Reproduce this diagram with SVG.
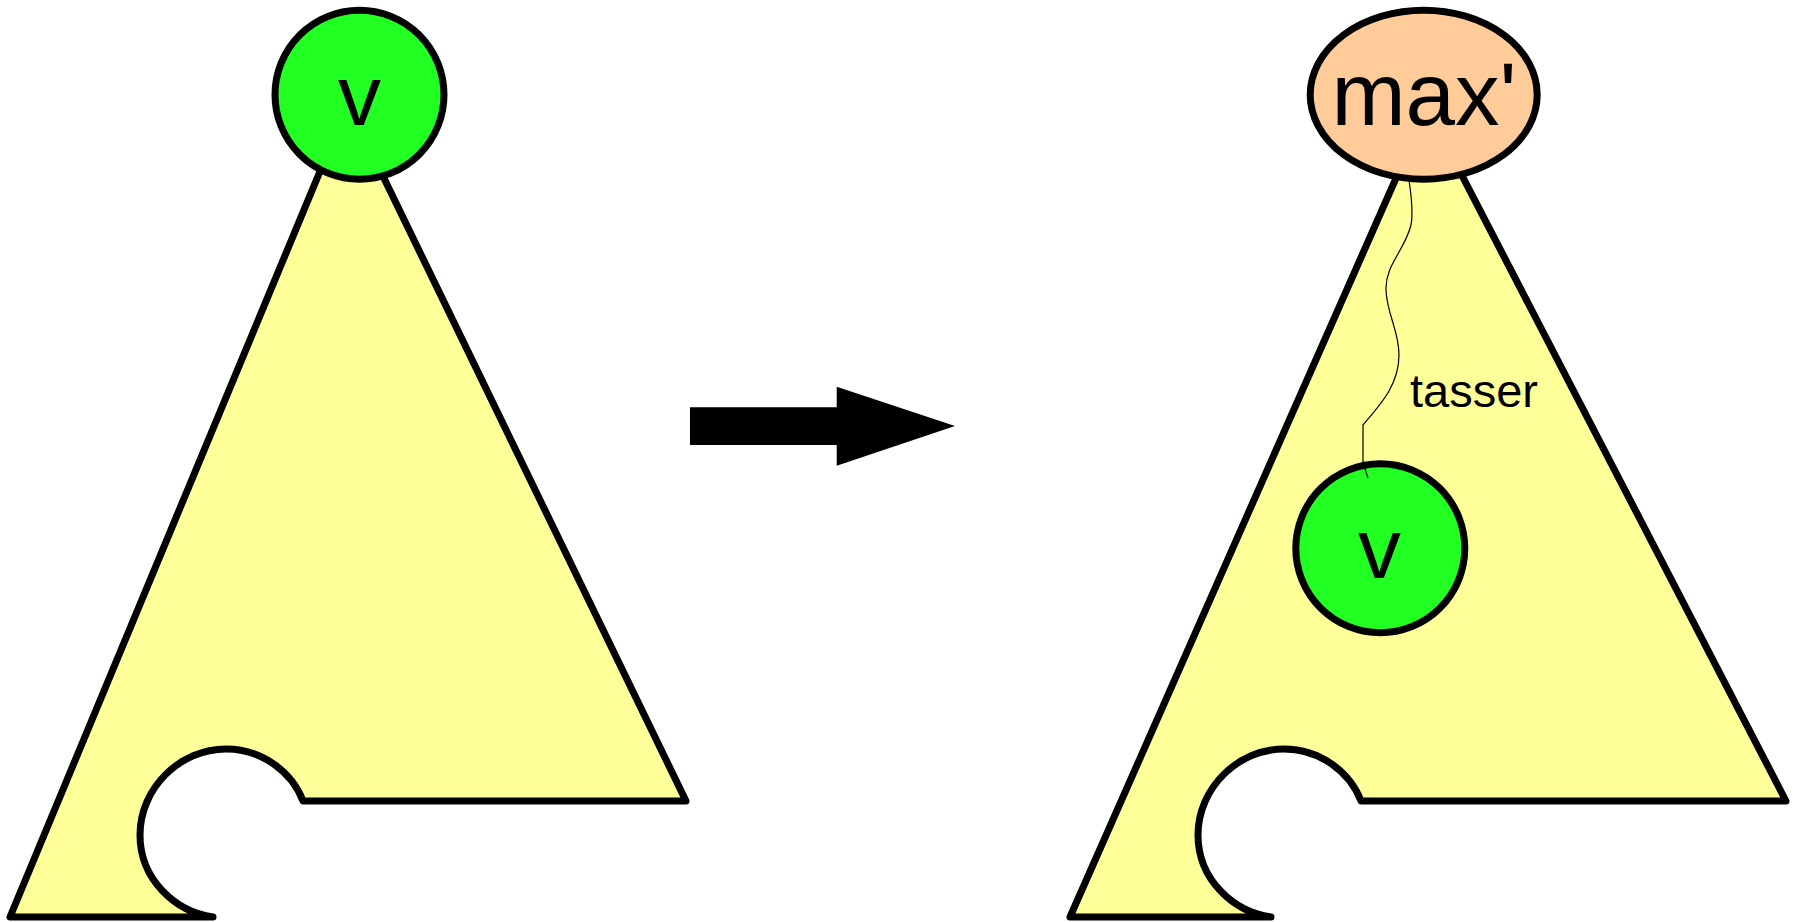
<svg xmlns="http://www.w3.org/2000/svg" width="1799" height="922" viewBox="0 0 1799 922">
  <style>
    .tree { fill: #ffff99; stroke: #000; stroke-width: 7; stroke-linejoin: round; }
    .node { stroke: #000; stroke-width: 7; }
    .green { fill: #22ff22; }
    .peach { fill: #ffcc99; }
    .lbl { font-family: "Liberation Sans", Arial, sans-serif; fill: #000; text-anchor: middle; }
    .conn { fill: none; stroke: #000; stroke-width: 1.2; }
  </style>
  <rect width="1799" height="922" fill="#fff"/>
  <g id="tree-left">
    <path class="tree" d="M348,104 L10,917 L213,917 C176,912 140,880 140,835 C140,788 180,749 226,749 C262,749 292,772 303,801 L686,801 Z"/>
  </g>
  <g id="node-v-top">
    <circle class="node green" cx="359.5" cy="94.7" r="84.5"/>
    <text class="lbl" x="359.5" y="125" font-size="86">v</text>
  </g>
  <g id="arrow">
    <polygon fill="#000" points="690,407.3 836.7,407.3 836.7,386.7 955,426 836.7,465.7 836.7,445 690,445"/>
  </g>
  <g id="tree-right">
    <path class="tree" d="M1427,108 L1070,917 L1271,917 C1234,912 1198,880 1198,835 C1198,788 1238,749 1284,749 C1320,749 1350,772 1361,801 L1786,801 Z"/>
  </g>
  <g id="node-max">
    <ellipse class="node peach" cx="1423.7" cy="94.7" rx="113.5" ry="84.5"/>
    <text class="lbl" x="1424" y="125" font-size="89">max'</text>
  </g>
  <g id="node-v-inner">
    <circle class="node green" cx="1380.3" cy="548.3" r="84.5"/>
    <text class="lbl" x="1379.5" y="578.3" font-size="86">v</text>
  </g>
  <g id="connectors">
    <path class="conn" d="M1409,180 C1412,200 1413,215 1411,225 C1405,250 1385,265 1386,290 C1387,315 1399,330 1399,355 C1399,385 1380,405 1363,425 L1363,463 L1368,478"/>
    <text x="1410" y="406.7" font-size="47" font-family="Liberation Sans, Arial, sans-serif" fill="#000">tasser</text>
  </g>
</svg>
